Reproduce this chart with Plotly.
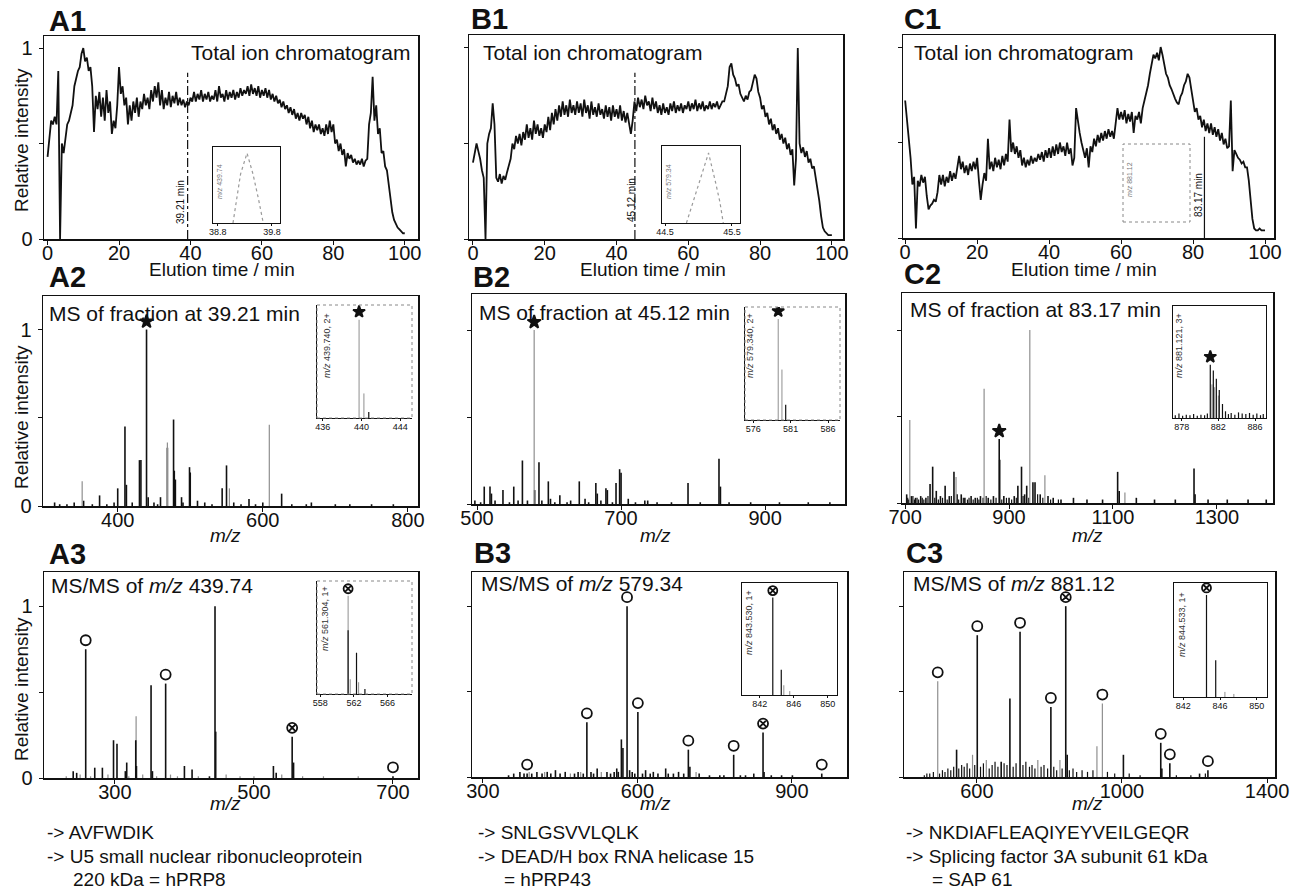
import plotly.graph_objects as go

# Geometry below is given in reference-picture pixels; the page body margin is
# removed by a post script so that figure pixels coincide with page pixels.
OFF = 0
W, H = 1299, 896
FONT = "Liberation Sans, Arial, Helvetica, sans-serif"
BLACK = "#111111"
GREY = "#8f8f8f"

# ---------------- data: total ion chromatograms (0.5 min sampling) ----------------
TIC_STEP = 0.5
tic_A1 = [
    0.43, 0.55, 0.62, 0.60, 0.64, 0.60, 0.88, 0.00, 0.50, 0.45, 0.52, 0.60, 0.62, 0.66, 0.70, 0.80, 0.84, 0.88, 0.90, 0.97,
    1.00, 0.93, 0.95, 0.88, 0.90, 0.80, 0.56, 0.75, 0.68, 0.77, 0.64, 0.74, 0.62, 0.78, 0.66, 0.72, 0.55, 0.62, 0.58, 0.70,
    0.90, 0.76, 0.80, 0.70, 0.74, 0.60, 0.70, 0.62, 0.72, 0.66, 0.74, 0.64, 0.72, 0.68, 0.76, 0.70, 0.74, 0.68, 0.78, 0.72,
    0.80, 0.74, 0.82, 0.70, 0.78, 0.68, 0.74, 0.70, 0.77, 0.69, 0.75, 0.71, 0.77, 0.70, 0.74, 0.70, 0.73, 0.69, 0.72, 0.70,
    0.74, 0.72, 0.77, 0.72, 0.76, 0.73, 0.78, 0.72, 0.76, 0.73, 0.77, 0.72, 0.75, 0.73, 0.78, 0.72, 0.80, 0.74, 0.76, 0.72,
    0.78, 0.73, 0.77, 0.74, 0.78, 0.73, 0.77, 0.74, 0.79, 0.75, 0.78, 0.76, 0.80, 0.75, 0.81, 0.76, 0.79, 0.75, 0.80, 0.74,
    0.78, 0.75, 0.79, 0.74, 0.78, 0.73, 0.76, 0.72, 0.75, 0.71, 0.73, 0.69, 0.72, 0.68, 0.70, 0.66, 0.69, 0.65, 0.68, 0.63,
    0.66, 0.62, 0.66, 0.63, 0.65, 0.60, 0.64, 0.58, 0.62, 0.56, 0.60, 0.57, 0.60, 0.55, 0.58, 0.54, 0.60, 0.55, 0.62, 0.56,
    0.60, 0.50, 0.52, 0.46, 0.50, 0.44, 0.47, 0.38, 0.45, 0.42, 0.44, 0.40, 0.42, 0.39, 0.41, 0.39, 0.42, 0.38, 0.41, 0.42,
    0.60, 0.66, 0.85, 0.62, 0.70, 0.55, 0.58, 0.45, 0.46, 0.38, 0.36, 0.28, 0.20, 0.14, 0.10, 0.08, 0.06, 0.05, 0.04, 0.03,
    0.03,
]
tic_B1 = [
    0.40, 0.46, 0.50, 0.46, 0.42, 0.36, 0.32, 0.00, 0.50, 0.55, 0.58, 0.71, 0.60, 0.32, 0.30, 0.34, 0.29, 0.33, 0.31, 0.35,
    0.38, 0.42, 0.50, 0.47, 0.54, 0.50, 0.55, 0.49, 0.56, 0.52, 0.60, 0.53, 0.58, 0.52, 0.62, 0.55, 0.60, 0.54, 0.58, 0.53,
    0.60, 0.56, 0.64, 0.57, 0.66, 0.60, 0.68, 0.62, 0.70, 0.64, 0.72, 0.65, 0.70, 0.64, 0.73, 0.66, 0.70, 0.65, 0.72, 0.66,
    0.71, 0.64, 0.73, 0.66, 0.70, 0.63, 0.72, 0.65, 0.69, 0.64, 0.71, 0.65, 0.68, 0.63, 0.70, 0.64, 0.69, 0.62, 0.70, 0.64,
    0.68, 0.63, 0.70, 0.62, 0.67, 0.61, 0.66, 0.60, 0.55, 0.62, 0.72, 0.67, 0.74, 0.69, 0.73, 0.68, 0.75, 0.70, 0.72, 0.67,
    0.74, 0.68, 0.72, 0.66, 0.70, 0.65, 0.71, 0.66, 0.69, 0.65, 0.71, 0.67, 0.72, 0.66, 0.70, 0.67, 0.71, 0.66, 0.70, 0.68,
    0.72, 0.67, 0.71, 0.68, 0.73, 0.67, 0.71, 0.68, 0.72, 0.67, 0.70, 0.68, 0.72, 0.68, 0.71, 0.69, 0.72, 0.68, 0.70, 0.72,
    0.72, 0.76, 0.80, 0.90, 0.92, 0.86, 0.84, 0.80, 0.81, 0.76, 0.74, 0.72, 0.75, 0.73, 0.77, 0.78, 0.82, 0.86, 0.84, 0.77,
    0.74, 0.68, 0.70, 0.64, 0.66, 0.60, 0.63, 0.57, 0.60, 0.55, 0.58, 0.52, 0.55, 0.50, 0.53, 0.47, 0.50, 0.44, 0.47, 0.28,
    0.42, 1.00, 0.50, 0.45, 0.48, 0.43, 0.46, 0.40, 0.42, 0.37, 0.38, 0.32, 0.28, 0.20, 0.12, 0.06, 0.04, 0.03, 0.02, 0.02,
    0.02,
]
tic_C1 = [
    0.72, 0.62, 0.55, 0.42, 0.28, 0.32, 0.05, 0.30, 0.27, 0.33, 0.29, 0.32, 0.22, 0.15, 0.17, 0.18, 0.20, 0.19, 0.24, 0.33,
    0.28, 0.33, 0.27, 0.32, 0.29, 0.35, 0.30, 0.34, 0.31, 0.37, 0.43, 0.36, 0.40, 0.34, 0.38, 0.33, 0.39, 0.35, 0.40, 0.36,
    0.42, 0.30, 0.20, 0.28, 0.34, 0.30, 0.52, 0.36, 0.40, 0.35, 0.42, 0.37, 0.41, 0.36, 0.43, 0.38, 0.44, 0.40, 0.62, 0.45,
    0.50, 0.44, 0.48, 0.42, 0.46, 0.38, 0.42, 0.37, 0.41, 0.38, 0.43, 0.39, 0.42, 0.40, 0.44, 0.41, 0.45, 0.40, 0.46, 0.42,
    0.47, 0.42, 0.48, 0.43, 0.49, 0.44, 0.50, 0.45, 0.48, 0.43, 0.50, 0.44, 0.47, 0.38, 0.42, 0.68, 0.60, 0.55, 0.50, 0.46,
    0.42, 0.47, 0.37, 0.48, 0.45, 0.52, 0.48, 0.54, 0.50, 0.55, 0.51, 0.56, 0.52, 0.57, 0.53, 0.56, 0.52, 0.60, 0.68, 0.62,
    0.66, 0.62, 0.67, 0.60, 0.65, 0.61, 0.66, 0.55, 0.64, 0.62, 0.66, 0.60, 0.68, 0.72, 0.76, 0.80, 0.86, 0.92, 0.96, 0.94,
    0.97, 0.93, 1.00, 0.96, 0.90, 0.86, 0.84, 0.80, 0.78, 0.75, 0.73, 0.71, 0.70, 0.74, 0.76, 0.80, 0.82, 0.86, 0.84, 0.78,
    0.72, 0.66, 0.68, 0.62, 0.64, 0.58, 0.62, 0.56, 0.60, 0.55, 0.60, 0.54, 0.58, 0.53, 0.57, 0.51, 0.55, 0.49, 0.52, 0.47,
    0.48, 0.72, 0.35, 0.46, 0.44, 0.42, 0.41, 0.39, 0.40, 0.37, 0.37, 0.30, 0.20, 0.10, 0.05, 0.04, 0.04, 0.05, 0.04, 0.04,
    0.04,
]
fraction_times = [39.21, 45.12, 83.17]
fraction_line_top = [0.87, 0.87, 0.53]
fraction_labels = ["39.21 min", "45.12 min", "83.17 min"]

# selected-ion chromatogram insets
sic_A_t = [39.08, 39.15, 39.22, 39.34, 39.45, 39.55, 39.64]
sic_A_v = [0.0, 0.35, 0.70, 1.00, 0.70, 0.35, 0.0]
sic_B_t = [44.82, 44.92, 45.02, 45.15, 45.25, 45.32, 45.37]
sic_B_v = [0.0, 0.30, 0.60, 1.00, 0.60, 0.30, 0.0]

# ---------------- data: MS spectra ----------------
A2_mz_black = [313, 320, 330, 340, 353, 365, 375, 385, 395, 400,
               410, 412, 420, 430, 432, 439.74, 442, 450, 455, 459,
               468.5, 477, 478, 479.5, 488, 490, 499, 500, 510, 520,
               530, 544, 550, 560, 570, 581, 590, 600, 626, 640,
               660, 667, 700, 720, 750, 780]
A2_int_black = [0.02, 0.01, 0.01, 0.02, 0.03, 0.01, 0.06, 0.01, 0.02, 0.10,
                0.45, 0.12, 0.02, 0.26, 0.26, 1.00, 0.05, 0.02, 0.01, 0.05,
                0.33, 0.49, 0.20, 0.15, 0.05, 0.02, 0.22, 0.19, 0.03, 0.02,
                0.01, 0.10, 0.23, 0.02, 0.01, 0.04, 0.01, 0.02, 0.07, 0.01,
                0.01, 0.02, 0.01, 0.01, 0.01, 0.01]
A2_mz_grey = [351, 468.5, 554, 609]
A2_int_grey = [0.14, 0.36, 0.10, 0.46]
A2_star = [439.74]

B2_mz_black = [497, 505, 510, 518, 520, 525, 536, 545, 551, 557,
               563, 570, 580, 586, 590, 599, 602, 608, 615, 625,
               630, 642, 650, 655, 665, 667, 672, 679, 681, 688,
               693, 698, 700, 710, 720, 733, 737, 750, 770, 793,
               810, 836, 838, 850, 880, 920, 960, 990]
B2_int_black = [0.02, 0.01, 0.10, 0.10, 0.06, 0.02, 0.08, 0.01, 0.10, 0.02,
                0.25, 0.02, 0.08, 0.24, 0.02, 0.13, 0.03, 0.01, 0.05, 0.01,
                0.02, 0.13, 0.03, 0.01, 0.12, 0.06, 0.02, 0.09, 0.08, 0.01,
                0.12, 0.20, 0.18, 0.03, 0.01, 0.02, 0.02, 0.01, 0.01, 0.12,
                0.01, 0.26, 0.10, 0.01, 0.01, 0.01, 0.01, 0.01]
B2_mz_grey = [579.34]
B2_int_grey = [1.00]
B2_star = [579.34]

C2_mz_black = [703, 712, 720, 730, 740, 748, 753, 760, 768, 777,
               785, 794, 800, 808, 815, 827, 835, 845, 860, 870,
               881.12, 882, 890, 900, 910, 917, 924, 930, 934, 946,
               950, 960, 975, 985, 1000, 1024, 1050, 1080, 1109, 1112,
               1145, 1180, 1220, 1256, 1258, 1283, 1320, 1360, 1395]
C2_int_black = [0.05, 0.04, 0.03, 0.04, 0.03, 0.11, 0.21, 0.07, 0.04, 0.10,
                0.04, 0.18, 0.05, 0.05, 0.03, 0.04, 0.03, 0.04, 0.03, 0.04,
                0.37, 0.25, 0.04, 0.03, 0.04, 0.10, 0.21, 0.05, 0.10, 0.12,
                0.12, 0.05, 0.04, 0.03, 0.02, 0.03, 0.02, 0.02, 0.18, 0.07,
                0.03, 0.02, 0.02, 0.20, 0.05, 0.02, 0.02, 0.02, 0.02]
C2_mz_noise = [705, 707, 715, 718, 723, 726, 733, 736, 744, 757,
               764, 772, 781, 789, 803, 812, 820, 823, 831, 839,
               842, 850, 856, 865, 875, 886, 895, 905, 914, 927,
               938, 955, 965, 980, 995]
C2_int_noise = [0.03, 0.02, 0.04, 0.02, 0.03, 0.02, 0.03, 0.02, 0.04, 0.03,
                0.02, 0.03, 0.02, 0.04, 0.02, 0.03, 0.02, 0.03, 0.02, 0.03,
                0.02, 0.03, 0.04, 0.02, 0.03, 0.02, 0.03, 0.02, 0.03, 0.04,
                0.03, 0.05, 0.03, 0.02, 0.02]
C2_mz_grey = [709, 798, 852, 940, 969, 1123]
C2_int_grey = [0.48, 0.15, 0.66, 1.00, 0.16, 0.06]
C2_star = [881.12]

A3_mz_black = [240, 245, 258, 271, 282, 298, 303, 315, 317, 330, 331, 352,
               354, 373, 400, 411, 436, 444, 445, 528, 532, 555, 557, 700]
A3_int_black = [0.04, 0.03, 0.75, 0.06, 0.06, 0.22, 0.20, 0.04, 0.09, 0.22, 0.07, 0.54,
                0.04, 0.55, 0.07, 0.05, 0.01, 1.00, 0.27, 0.07, 0.03, 0.24, 0.09, 0.01]
A3_mz_grey = [330.5, 230, 250, 265, 290, 320, 340, 360, 380, 390, 420, 460, 480, 500, 540, 570, 600, 650]
A3_int_grey = [0.36, 0.01, 0.02, 0.01, 0.02, 0.01, 0.02, 0.01, 0.02, 0.01, 0.01, 0.02, 0.01, 0.01, 0.02, 0.01, 0.01, 0.01]
A3_circles = [258, 373, 700]
A3_crossed = [555]

B3_mz_black = [350, 360, 372, 380, 386, 395, 405, 415, 425, 432,
               441, 450, 460, 478, 485, 495, 502, 510, 515, 522,
               541, 548, 555, 560, 563, 569, 572, 580, 585, 590,
               595, 601, 610, 616, 625, 631, 640, 655, 660, 670,
               680, 690, 699, 702, 720, 740, 760, 768, 787, 800,
               810, 826, 844, 846, 860, 880, 901, 958]
B3_int_black = [0.01, 0.02, 0.03, 0.02, 0.02, 0.02, 0.03, 0.02, 0.03, 0.02,
                0.04, 0.02, 0.03, 0.02, 0.03, 0.02, 0.32, 0.03, 0.02, 0.05,
                0.03, 0.02, 0.03, 0.05, 0.03, 0.22, 0.17, 1.00, 0.04, 0.03,
                0.02, 0.38, 0.02, 0.04, 0.02, 0.03, 0.02, 0.05, 0.02, 0.02,
                0.03, 0.02, 0.16, 0.06, 0.02, 0.01, 0.01, 0.01, 0.13, 0.01,
                0.01, 0.02, 0.26, 0.03, 0.01, 0.01, 0.01, 0.02]
B3_mz_grey = [390, 420, 470, 490, 530, 714]
B3_int_grey = [0.03, 0.03, 0.02, 0.03, 0.03, 0.03]
B3_circles = [386, 502, 580, 601, 699, 787, 958]
B3_crossed = [844]

C3_mz_black = [544, 601, 667, 691, 719, 804, 845, 849, 1004, 1107, 1110, 1132, 1214, 1237]
C3_int_black = [0.16, 0.83, 0.09, 0.46, 0.85, 0.41, 1.00, 0.13, 0.13, 0.20, 0.05, 0.08, 0.02, 0.04]
C3_mz_noise = [455, 462, 470, 480, 497, 505, 512, 520, 528, 536,
               550, 558, 565, 573, 580, 594, 610, 618, 634, 642,
               650, 658, 675, 683, 700, 708, 727, 735, 745, 752,
               760, 777, 785, 795, 812, 820, 835, 855, 865, 875,
               890, 905, 920, 960, 980, 1020, 1050, 1150, 1190, 1230]
C3_int_noise = [0.01, 0.02, 0.02, 0.03, 0.02, 0.04, 0.03, 0.05, 0.04, 0.06,
                0.05, 0.07, 0.06, 0.08, 0.05, 0.07, 0.06, 0.08, 0.05, 0.07,
                0.09, 0.06, 0.08, 0.07, 0.06, 0.08, 0.07, 0.09, 0.06, 0.07,
                0.05, 0.06, 0.07, 0.05, 0.06, 0.04, 0.05, 0.04, 0.05, 0.03,
                0.04, 0.03, 0.04, 0.03, 0.02, 0.02, 0.01, 0.01, 0.01, 0.02]
C3_mz_grey = [492, 588, 626, 768, 829, 931, 946]
C3_int_grey = [0.56, 0.13, 0.10, 0.10, 0.10, 0.18, 0.43]
C3_circles = [492, 601, 719, 804, 946, 1107, 1132, 1237]
C3_crossed = [845]

# zoomed isotope insets
A2i_mz_black, A2i_int_black = [440.74], [0.06]
A2i_mz_grey, A2i_int_grey = [439.74, 440.24], [1.00, 0.25]
B2i_mz_black, B2i_int_black = [580.34], [0.15]
B2i_mz_grey, B2i_int_grey = [579.34, 579.84], [1.00, 0.50]
C2i_mz_black = [881.12, 881.45, 881.78, 882.10, 882.45, 882.78,
                877.3, 877.7, 878.1, 878.5, 878.9, 879.3, 879.7, 880.1, 880.5, 880.8,
                883.1, 883.4, 883.8, 884.2, 884.6, 885.0, 885.4, 885.8, 886.2, 886.6, 886.9]
C2i_int_black = [0.95, 0.85, 0.70, 0.50, 0.25, 0.12,
                 0.05, 0.08, 0.04, 0.06, 0.05, 0.07, 0.04, 0.06, 0.05, 0.08,
                 0.07, 0.09, 0.06, 0.10, 0.08, 0.07, 0.09, 0.06, 0.08, 0.05, 0.07]
C2i_mz_grey, C2i_int_grey = [881.3, 881.6, 882.0], [0.60, 0.55, 0.40]
A3i_mz_black, A3i_int_black = [561.30, 562.30, 563.30], [0.65, 0.42, 0.05]
A3i_mz_grey, A3i_int_grey = [561.30, 561.55, 562.55], [1.00, 0.15, 0.12]
B3i_mz_black, B3i_int_black = [843.53, 844.53], [1.00, 0.26]
B3i_mz_grey, B3i_int_grey = [844.83, 845.53], [0.10, 0.04]
C3i_mz_black, C3i_int_black = [844.53, 845.53], [1.00, 0.36]
C3i_mz_grey, C3i_int_grey = [846.53, 847.50], [0.05, 0.03]

inset_labels = ["<i>m/z</i> 439.740, 2+", "<i>m/z</i> 579.340, 2+", "<i>m/z</i> 881.121, 3+",
                "<i>m/z</i> 561.304, 1+", "<i>m/z</i> 843.530, 1+", "<i>m/z</i> 844.533, 1+"]

panel_letters = ["A1", "B1", "C1", "A2", "B2", "C2", "A3", "B3", "C3"]
panel_titles = ["Total ion chromatogram", "Total ion chromatogram", "Total ion chromatogram",
                "MS of fraction at 39.21 min", "MS of fraction at 45.12 min", "MS of fraction at 83.17 min",
                "MS/MS of <i>m/z</i> 439.74", "MS/MS of <i>m/z</i> 579.34", "MS/MS of <i>m/z</i> 881.12"]
identifications = [
    ["-&gt; AVFWDIK", "-&gt; U5 small nuclear ribonucleoprotein", "220 kDa = hPRP8"],
    ["-&gt; SNLGSVVLQLK", "-&gt; DEAD/H box RNA helicase 15", "= hPRP43"],
    ["-&gt; NKDIAFLEAQIYEYVEILGEQR", "-&gt; Splicing factor 3A subunit 61 kDa", "= SAP 61"],
]

# ---------------- layout geometry (reference-picture pixel boxes) ----------------
MAIN = {
    1: ((44, 36, 418, 239), [-1, 103.7], [0, 1.063], [0, 20, 40, 60, 80, 100]),
    2: ((469, 35, 843, 239), [-1.1, 103.1], [0, 1.068], [0, 20, 40, 60, 80, 100]),
    3: ((903, 35, 1274, 238), [-0.6, 102.5], [0, 1.063], [0, 20, 40, 60, 80, 100]),
    4: ((43, 296, 418, 506), [297, 814], [0, 1.19], [400, 600, 800]),
    5: ((472, 294, 845, 504), [493, 1011], [0, 1.207], [500, 700, 900]),
    6: ((902, 293, 1273, 503), [694, 1408], [0, 1.214], [700, 900, 1100, 1300]),
    7: ((44, 572, 418, 778), [198, 736], [0, 1.2], [300, 500, 700]),
    8: ((472, 572, 847, 777), [279, 1007], [0, 1.2], [300, 600, 900]),
    9: ((904, 572, 1275, 777), [399, 1422], [0, 1.2], [600, 1000, 1400]),
}
INSET = {
    10: ((213, 147, 280, 223), [38.71, 39.95], [0, 1.087], [38.8, 39.8], "solid"),
    11: ((662, 146, 740, 223), [44.455, 45.62], [0, 1.1], [44.5, 45.5], "solid"),
    12: ((1123, 144, 1190, 222), [82.67, 83.675], [0, 1.1], [82.8, 83.6], "dotted"),
    13: ((317, 305, 412, 418), [435.4, 445.2], [0, 1.15], [436, 440, 444], "dotted"),
    14: ((745, 307, 840, 420), [574.9, 587.6], [0, 1.12], [576, 581, 586], "dotted"),
    15: ((1173, 306, 1266, 418), [877.05, 887.2], [0, 2.0], [878, 882, 886], "solid"),
    16: ((317, 581, 412, 694), [557.6, 568.9], [0, 1.15], [558, 562, 566], "dotted"),
    17: ((742, 583, 837, 695), [839.9, 851.1], [0, 1.15], [842, 846, 850], "solid"),
    18: ((1174, 583, 1267, 697), [841.0, 851.1], [0, 1.117], [842, 846, 850], "solid"),
}


def fx(x):
    return (x - OFF) / W


def fy(y):
    return 1 - (y - OFF) / H


def dom_x(x0, x1):
    return [fx(x0), fx(x1)]


def dom_y(y0, y1):
    return [fy(y1), fy(y0)]


def ax(i):
    return ("x" if i == 1 else f"x{i}"), ("y" if i == 1 else f"y{i}")


def geom(i):
    return MAIN[i] if i in MAIN else INSET[i]


def yoff(i, pixels):
    (x0, y0, x1, y1), _, yr = geom(i)[:3]
    return pixels * (yr[1] - yr[0]) / (y1 - y0)


def sticks(mz, inten):
    xs, ys = [], []
    for m, v in zip(mz, inten):
        xs += [m, m, None]
        ys += [0, v, None]
    return xs, ys


def height_at(target, *pairs):
    best = 0.0
    for mzs, ints in pairs:
        for m, v in zip(mzs, ints):
            if abs(m - target) < 0.01:
                best = max(best, v)
    return best


fig = go.Figure()


def add_sticks(i, mz, inten, color, width):
    xa, ya = ax(i)
    xs, ys = sticks(mz, inten)
    fig.add_trace(go.Scatter(x=xs, y=ys, mode="lines", xaxis=xa, yaxis=ya,
                             line=dict(color=color, width=width), hoverinfo="skip", showlegend=False))


def add_markers(i, mzs, pairs, symbol, pixels, size):
    xa, ya = ax(i)
    ys = [height_at(m, *pairs) + yoff(i, pixels) for m in mzs]
    fig.add_trace(go.Scatter(x=mzs, y=ys, mode="markers", xaxis=xa, yaxis=ya, showlegend=False,
                             hoverinfo="skip",
                             marker=dict(symbol=symbol, size=size, color=BLACK,
                                         line=dict(color=BLACK, width=1.8))))


# ---- chromatograms ----
for i, vals in zip([1, 2, 3], [tic_A1, tic_B1, tic_C1]):
    xa, ya = ax(i)
    t = [k * TIC_STEP for k in range(len(vals))]
    fig.add_trace(go.Scatter(x=t, y=vals, mode="lines", xaxis=xa, yaxis=ya, showlegend=False,
                             line=dict(color=BLACK, width=1.8), hoverinfo="skip"))

for i, t, v in [(10, sic_A_t, sic_A_v), (11, sic_B_t, sic_B_v)]:
    xa, ya = ax(i)
    fig.add_trace(go.Scatter(x=t, y=v, mode="lines", xaxis=xa, yaxis=ya, showlegend=False,
                             line=dict(color="#9a9a9a", width=1.2, dash="dot"), hoverinfo="skip"))

# ---- MS spectra ----
add_sticks(4, A2_mz_black, A2_int_black, BLACK, 1.6)
add_sticks(4, A2_mz_grey, A2_int_grey, GREY, 1.2)
add_markers(4, A2_star, [(A2_mz_black, A2_int_black), (A2_mz_grey, A2_int_grey)], "star", 8, 10)

add_sticks(5, B2_mz_black, B2_int_black, BLACK, 1.6)
add_sticks(5, B2_mz_grey, B2_int_grey, GREY, 1.2)
add_markers(5, B2_star, [(B2_mz_black, B2_int_black), (B2_mz_grey, B2_int_grey)], "star", 8, 10)

add_sticks(6, C2_mz_noise, C2_int_noise, BLACK, 1.2)
add_sticks(6, C2_mz_black, C2_int_black, BLACK, 1.6)
add_sticks(6, C2_mz_grey, C2_int_grey, GREY, 1.2)
add_markers(6, C2_star, [(C2_mz_black, C2_int_black)], "star", 8, 10)

add_sticks(7, A3_mz_grey, A3_int_grey, GREY, 1.2)
add_sticks(7, A3_mz_black, A3_int_black, BLACK, 1.6)
a3p = [(A3_mz_black, A3_int_black), (A3_mz_grey, A3_int_grey)]
add_markers(7, A3_circles, a3p, "circle-open", 9, 10)
add_markers(7, A3_crossed, a3p, "circle-x-open", 9, 10)

add_sticks(8, B3_mz_grey, B3_int_grey, GREY, 1.2)
add_sticks(8, B3_mz_black, B3_int_black, BLACK, 1.6)
b3p = [(B3_mz_black, B3_int_black), (B3_mz_grey, B3_int_grey)]
add_markers(8, B3_circles, b3p, "circle-open", 9, 10)
add_markers(8, B3_crossed, b3p, "circle-x-open", 9, 10)

add_sticks(9, C3_mz_noise, C3_int_noise, BLACK, 1.2)
add_sticks(9, C3_mz_grey, C3_int_grey, GREY, 1.2)
add_sticks(9, C3_mz_black, C3_int_black, BLACK, 1.6)
c3p = [(C3_mz_black, C3_int_black), (C3_mz_grey, C3_int_grey)]
add_markers(9, C3_circles, c3p, "circle-open", 9, 10)
add_markers(9, C3_crossed, c3p, "circle-x-open", 9, 10)

# ---- isotope insets ----
for i, mb, ib, mg, ig in [
    (13, A2i_mz_black, A2i_int_black, A2i_mz_grey, A2i_int_grey),
    (14, B2i_mz_black, B2i_int_black, B2i_mz_grey, B2i_int_grey),
    (15, C2i_mz_black, C2i_int_black, C2i_mz_grey, C2i_int_grey),
    (16, A3i_mz_black, A3i_int_black, A3i_mz_grey, A3i_int_grey),
    (17, B3i_mz_black, B3i_int_black, B3i_mz_grey, B3i_int_grey),
    (18, C3i_mz_black, C3i_int_black, C3i_mz_grey, C3i_int_grey),
]:
    add_sticks(i, mg, ig, GREY, 1.0)
    add_sticks(i, mb, ib, BLACK, 1.2)
    pairs = [(mb, ib), (mg, ig)]
    if i in (13, 14, 15):
        target = [A2_star, B2_star, C2_star][i - 13]
        add_markers(i, target, pairs, "star", 8, 9)
    else:
        target = [[561.30], [843.53], [844.53]][i - 16]
        add_markers(i, target, pairs, "circle-x-open", 7, 9)

# ---------------- axes ----------------
layout = dict(width=W, height=H, margin=dict(l=0, r=0, t=0, b=0, autoexpand=False),
              paper_bgcolor="white", plot_bgcolor="rgba(0,0,0,0)",
              font=dict(family=FONT, color=BLACK), showlegend=False)

for i in list(MAIN) + list(INSET):
    xk = "xaxis" if i == 1 else f"xaxis{i}"
    yk = "yaxis" if i == 1 else f"yaxis{i}"
    xa, ya = ax(i)
    inset = i in INSET
    g = geom(i)
    (x0, y0, x1, y1), xr, yr, xt = g[:4]
    frame = g[4] if inset else "solid"
    mirror = True if frame == "solid" else False
    lw = 1.0 if inset else 1.5
    layout[xk] = dict(domain=dom_x(x0, x1), range=xr, anchor=ya, showgrid=False, zeroline=False,
                      automargin=False, fixedrange=True,
                      showline=True, linecolor=BLACK, linewidth=lw, mirror=mirror,
                      ticks="outside", ticklen=2 if inset else 4, tickwidth=1, tickcolor=BLACK,
                      ticklabelstandoff=-2 if inset else -9,
                      tickvals=xt, tickfont=dict(size=9 if inset else 20, family=FONT, color=BLACK))
    if inset:
        layout[yk] = dict(domain=dom_y(y0, y1), range=yr, anchor=xa, showgrid=False, zeroline=False,
                          automargin=False, fixedrange=True,
                          showline=True, linecolor=BLACK, linewidth=lw, mirror=mirror,
                          ticks="", showticklabels=False)
    else:
        col_a = i in (1, 4, 7)
        layout[yk] = dict(domain=dom_y(y0, y1), range=yr, anchor=xa, showgrid=False, zeroline=False,
                          automargin=False, fixedrange=True,
                          showline=True, linecolor=BLACK, linewidth=lw, mirror=True,
                          ticks="outside", ticklen=4, tickwidth=1, tickcolor=BLACK,
                          tickvals=[0, 0.5, 1], ticktext=["0", "", "1"], showticklabels=col_a,
                          ticklabelstandoff=2,
                          tickfont=dict(size=20, family=FONT, color=BLACK))

fig.update_layout(**layout)

# dotted inset frames
shapes = []
for i, g in INSET.items():
    if g[4] == "dotted":
        (x0, y0, x1, y1) = g[0]
        shapes.append(dict(type="rect", xref="paper", yref="paper",
                           x0=fx(x0), x1=fx(x1), y0=fy(y1), y1=fy(y0),
                           line=dict(color="#888888", width=1, dash="dot")))
# fraction markers in chromatograms
for i, t, top, dash in zip([1, 2, 3], fraction_times, fraction_line_top, ["dashdot", "dashdot", "solid"]):
    xa, ya = ax(i)
    shapes.append(dict(type="line", xref=xa, yref=ya, x0=t, x1=t, y0=0, y1=top,
                       line=dict(color=BLACK, width=1.2, dash=dash)))
fig.update_layout(shapes=shapes)

# ---------------- text ----------------
ann = []


def text(x, y, s, size, xanchor="left", bold=False, angle=0, color=BLACK, yanchor="middle"):
    if bold:
        s = f"<b>{s}</b>"
    ann.append(dict(xref="paper", yref="paper", x=fx(x), y=fy(y), text=s, showarrow=False,
                    xanchor=xanchor, yanchor=yanchor, textangle=angle,
                    font=dict(size=size, family=FONT, color=color)))


letter_pos = [(47, 21.5), (469, 19), (902, 19), (47, 277), (471, 277), (902, 274), (47, 554), (472, 553), (904, 553)]
for s, (x, y) in zip(panel_letters, letter_pos):
    text(x, y, s, 29, bold=True)

title_pos = [(412, 52, "right"), (481, 52, "left"), (912, 52, "left"),
             (47, 313, "left"), (477, 312, "left"), (908, 310, "left"),
             (49, 585, "left"), (479, 583, "left"), (911, 583, "left")]
for s, (x, y, xa_) in zip(panel_titles, title_pos):
    text(x, y, s, 21, xanchor=xa_)

for x in (222, 653, 1084):
    text(x, 269, "Elution time / min", 19, xanchor="center")
for x in (225, 655, 1087):
    text(x, 535, "<i>m/z</i>", 19, xanchor="center")
    text(x, 803, "<i>m/z</i>", 19, xanchor="center")

for y in (140, 417, 689):
    text(21, y, "Relative intensity", 19, xanchor="center", angle=-90)

# fraction labels beside marker lines
for s, (x, y) in zip(fraction_labels, [(180, 202), (631, 200), (1198, 195)]):
    text(x, y, s, 10, xanchor="center", angle=-90)

# tiny rotated labels inside chromatogram insets
for s, (x, y) in zip(["<i>m/z</i> 439.74", "<i>m/z</i> 579.34", "<i>m/z</i> 881.12"],
                     [(219, 182), (668, 182), (1129, 180)]):
    text(x, y, s, 7, xanchor="center", angle=-90, color="#777777")

# labels inside isotope insets
for s, (x, y) in zip(inset_labels, [(327, 346), (750, 346), (1179, 346), (325, 619), (749, 623), (1182, 625)]):
    text(x, y, s, 9, xanchor="center", angle=-90, color="#333333")

# identification lines
for (lines, x) in zip(identifications, (45, 476, 904)):
    text(x, 832, lines[0], 19)
    text(x, 856, lines[1], 19)
    text(x + 26, 879, lines[2], 19)

fig.update_layout(annotations=ann)
fig.write_html("out.html",
               config={"displayModeBar": False, "staticPlot": True},
               post_script="document.body.style.margin='0';document.body.style.overflow='hidden';")
